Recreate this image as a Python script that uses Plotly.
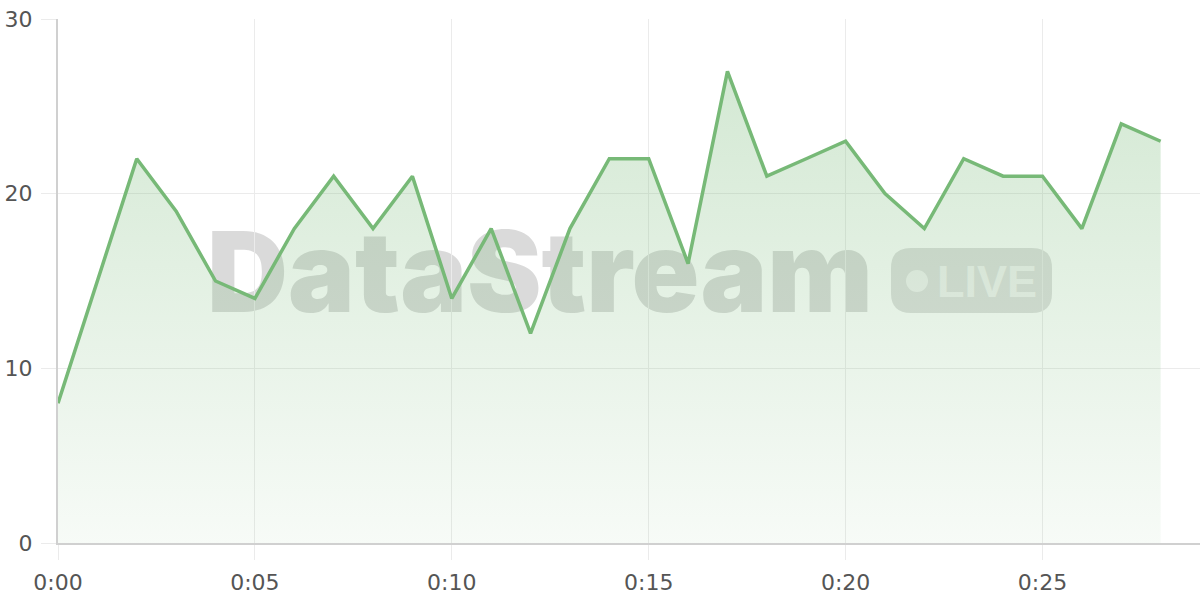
import plotly.graph_objects as go

# per-minute readings, 0:00 .. 0:28
minutes = list(range(29))
values = [8, 15, 22, 19, 15, 14, 18, 21, 18, 21, 14, 18, 12, 18, 22, 22,
          16, 27, 21, 22, 23, 20, 18, 22, 21, 21, 18, 24, 23]

x_ticks = [0, 5, 10, 15, 20, 25]
x_labels = ["0:00", "0:05", "0:10", "0:15", "0:20", "0:25"]
y_ticks = [0, 10, 20, 30]

line_green = "#77b977"
grid = "#ebebeb"
tick_font = dict(family="DejaVu Sans, sans-serif", size=22, color="#555555")

fig = go.Figure()

fig.add_trace(go.Scatter(
    x=minutes, y=values,
    mode="lines",
    line=dict(color=line_green, width=3.5),
    fill="tozeroy",
    fillgradient=dict(
        type="vertical",
        start=0, stop=max(values),
        colorscale=[[0, "rgba(119,185,119,0.06)"], [1, "rgba(119,185,119,0.32)"]],
    ),
    hoverinfo="skip",
))

# watermark: "DataStream" + LIVE pill (drawn below the trace)
# helpers turn page pixels into paper fractions of the plot area (58..1200, 19..543)
def px_x(p):
    return (p - 58) / 1142

def px_y(p):
    return (543 - p) / 524

fig.add_shape(
    type="rect", xref="paper", yref="paper", layer="below",
    x0=px_x(200), x1=px_x(880), y0=px_y(325), y1=px_y(210),
    line=dict(width=0), fillcolor="rgba(0,0,0,0)",
    label=dict(text="DataStream", textposition="middle center",
               font=dict(family="Inter, Liberation Sans, sans-serif", size=112,
                         color="rgba(150,150,150,0.35)", weight=900)),
)

x0, x1, y0, y1 = px_x(891), px_x(1052), px_y(313), px_y(248)
rx, ry = 20 / 1142, 20 / 524
pill = (f"M {x0+rx},{y0} L {x1-rx},{y0} Q {x1},{y0} {x1},{y0+ry} "
        f"L {x1},{y1-ry} Q {x1},{y1} {x1-rx},{y1} L {x0+rx},{y1} "
        f"Q {x0},{y1} {x0},{y1-ry} L {x0},{y0+ry} Q {x0},{y0} {x0+rx},{y0} Z")
fig.add_shape(type="path", path=pill, xref="paper", yref="paper", layer="below",
              line=dict(width=0), fillcolor="rgba(150,150,150,0.3)")
fig.add_shape(type="circle", xref="paper", yref="paper", layer="below",
              x0=px_x(906), x1=px_x(928), y0=px_y(292), y1=px_y(270),
              line=dict(width=0), fillcolor="rgba(255,255,255,0.6)")
fig.add_shape(
    type="rect", xref="paper", yref="paper", layer="below",
    x0=px_x(934), x1=px_x(1040), y0=px_y(302), y1=px_y(252),
    line=dict(width=0), fillcolor="rgba(0,0,0,0)",
    label=dict(text="LIVE", textposition="middle center",
               font=dict(family="Liberation Sans, Arial, sans-serif", size=45,
                         color="rgba(255,255,255,0.6)", weight="bold")),
)

fig.update_layout(
    width=1200, height=600,
    margin=dict(l=58, r=0, t=19, b=57),
    paper_bgcolor="white", plot_bgcolor="white",
    showlegend=False,
    xaxis=dict(
        range=[0, 29], tickvals=x_ticks, ticktext=x_labels,
        showgrid=True, gridcolor=grid, gridwidth=1,
        ticks="outside", ticklen=15, tickcolor=grid,
        showline=True, linecolor="#d0d0d0", linewidth=2,
        zeroline=False, tickfont=tick_font, automargin=False,
        ticklabelstandoff=4, ticklabeloverflow="allow",
    ),
    yaxis=dict(
        range=[0, 30], tickvals=y_ticks,
        showgrid=True, gridcolor=grid, gridwidth=1,
        ticks="outside", ticklen=15, tickcolor=grid,
        showline=True, linecolor="#d0d0d0", linewidth=2,
        zeroline=False, tickfont=tick_font, automargin=False,
        ticklabelstandoff=4, ticklabeloverflow="allow",
    ),
)

# drop the page's default 8px body margin so the figure sits at the corner
fig.write_html("out.html", config={"displayModeBar": False},
               post_script="document.body.style.margin = '0';")
